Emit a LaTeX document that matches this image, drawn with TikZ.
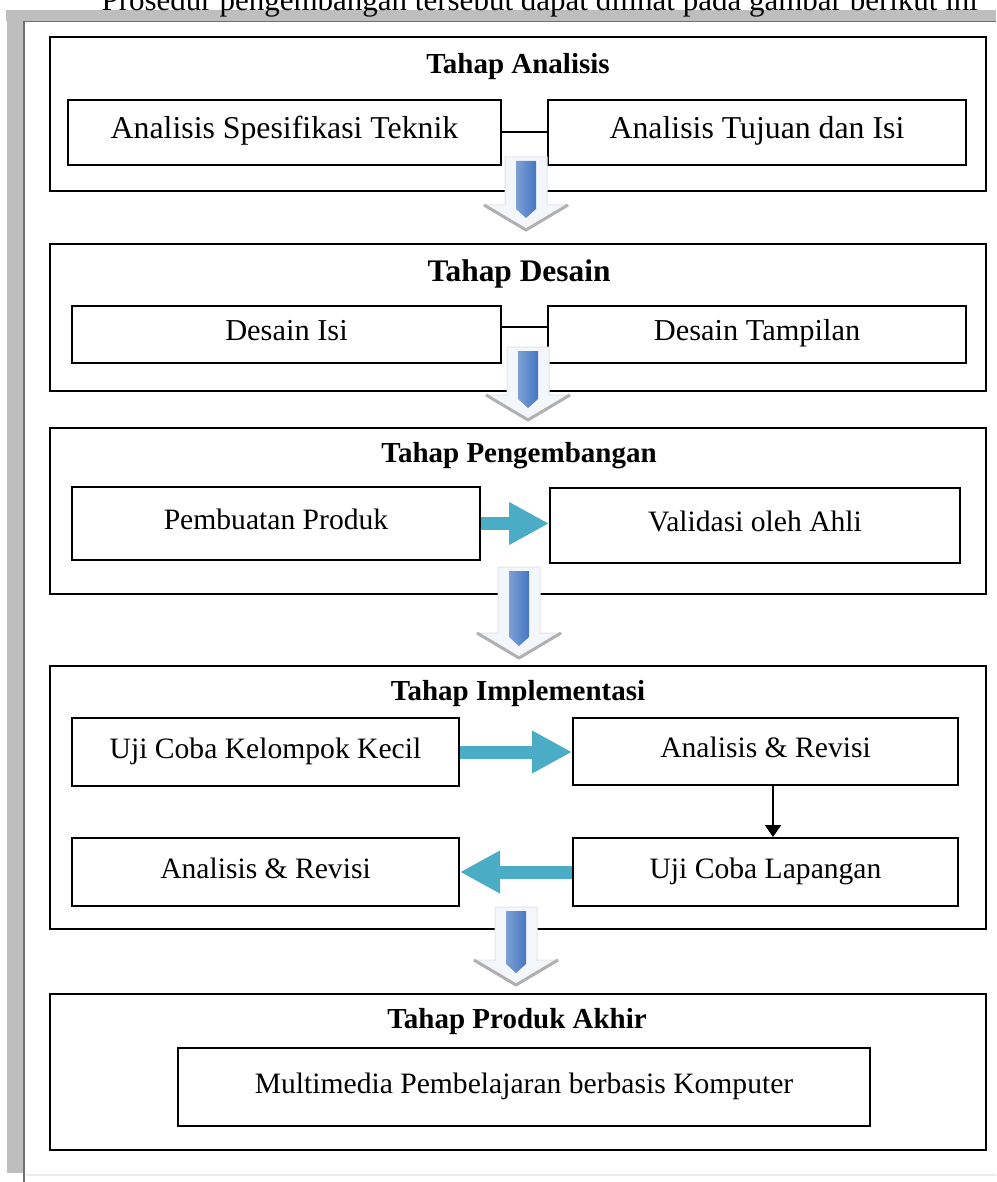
\documentclass[tikz,border=0pt]{standalone}
\usepackage{fontspec}
\setmainfont{Liberation Serif}
\usepackage{xcolor}
\usetikzlibrary{calc, arrows.meta}

\definecolor{framegray}{HTML}{BEBEBE}
\definecolor{framedark}{HTML}{707070}
\definecolor{flowcyan}{HTML}{4BACC6}
\definecolor{barblue}{HTML}{4677C2}
\definecolor{barpale}{HTML}{F3F6FA}
\definecolor{chevgray}{HTML}{B0B0B0}

\begin{document}
\begin{tikzpicture}[x=0.5pt, y=-0.5pt,
		stage/.style={draw, line width=1pt, anchor=north west, minimum width=468pt, inner sep=0pt},
		title/.style={font=\fontsize{14.5}{17}\selectfont\bfseries},
		box/.style={draw, line width=1pt, inner sep=0pt, text height=11pt, text depth=5pt, font=\fontsize{14.8}{17}\selectfont},
		flow/.style={flowcyan, line width=6.5pt, -{Triangle[length=20pt, width=20pt]}}]
			\def\wMAX{996};
			\def\hMAX{1182};

			\useasboundingbox (0,0) rectangle (\wMAX,\hMAX);
			\fill[white] (0,0) rectangle (\wMAX,\hMAX);

			\begin{scope}
				\fill[framegray] (6,10) rectangle (\wMAX,21);
				\fill[framegray] (7,21) rectangle (23,1173);
				\draw[framedark, line width=0.8pt] (24,\hMAX) -- (24,21.5) -- (\wMAX,21.5);
				\draw[gray!15, line width=0.6pt] (26,1175) -- (\wMAX,1175);
			\end{scope}

			\begin{scope}
				\clip (0,0) rectangle (\wMAX,30);
				\node[anchor=base east, font=\fontsize{15.5}{18}\selectfont] (intro) at (985,11) {Prosedur pengembangan tersebut dapat dilihat pada gambar berikut ini};
			\end{scope}

			\begin{scope}
				\node[stage, minimum height=77pt] (st1) at (49,36) {};
				\node[stage, minimum height=73.5pt] (st2) at (49,243) {};
				\node[stage, minimum height=83pt] (st3) at (49,427) {};
				\node[stage, minimum height=131.5pt] (st4) at (49,665) {};
				\node[stage, minimum height=78pt] (st5) at (49,993) {};

				\node[title] (t1) at (518,67) {Tahap Analisis};
				\node[title, font=\fontsize{15.7}{18}\selectfont\bfseries] (t2) at (519,274) {Tahap Desain};
				\node[title] (t3) at (519,456) {Tahap Pengembangan};
				\node[title] (t4) at (518,694) {Tahap Implementasi};
				\node[title] (t5) at (517,1022) {Tahap Produk Akhir};
			\end{scope}

			\begin{scope}
				\node[box, font=\fontsize{15.9}{18}\selectfont, minimum width=216.5pt, minimum height=32.5pt] (spek) at (284.5,132.5) {Analisis Spesifikasi Teknik};
				\node[box, font=\fontsize{15.9}{18}\selectfont, minimum width=209pt, minimum height=32.5pt] (tujuan) at (757,132.5) {Analisis Tujuan dan Isi};
				\draw[line width=1pt] (spek) -- (tujuan);

				\node[box, font=\fontsize{15.2}{18}\selectfont, minimum width=214.5pt, minimum height=28.5pt] (isi) at (286.5,334.5) {Desain Isi};
				\node[box, font=\fontsize{15.2}{18}\selectfont, minimum width=209pt, minimum height=28.5pt] (tampilan) at (757,334.5) {Desain Tampilan};
				\draw[line width=1pt] ([yshift=3.75pt]isi.east) -- ([yshift=3.75pt]tampilan.west);

				\node[box, minimum width=204pt, minimum height=36.5pt] (buat) at (276,523.5) {Pembuatan Produk};
				\node[box, minimum width=205pt, minimum height=37.5pt] (validasi) at (755,525.5) {Validasi oleh Ahli};
				\draw[flow] (buat.east) -- (buat.east -| validasi.west);

				\node[box, minimum width=193.5pt, minimum height=34pt] (kecil) at (265.5,752) {Uji Coba Kelompok Kecil};
				\node[box, minimum width=192.5pt, minimum height=33.5pt] (revisi1) at (765.5,751.5) {Analisis \& Revisi};
				\node[box, minimum width=192.5pt, minimum height=34pt] (lapangan) at (765.5,872) {Uji Coba Lapangan};
				\node[box, minimum width=193.5pt, minimum height=34pt] (revisi2) at (265.5,872) {Analisis \& Revisi};
				\draw[flow] (kecil.east) -- (kecil.east -| revisi1.west);
				\draw[line width=1pt, -{Triangle[length=6pt, width=8pt]}] ([xshift=3.75pt]revisi1.south) -- ([xshift=3.75pt]revisi1.south |- lapangan.north);
				\draw[flow] (lapangan.west) -- (lapangan.west -| revisi2.east);

				\node[box, minimum width=346pt, minimum height=39pt] (produk) at (524,1087) {Multimedia Pembelajaran berbasis Komputer};
			\end{scope}

			\begin{scope}
				\foreach \a/\b/\dx/\lift/\gap in {st1/st2/8/35/13, st2/st3/10/45/7, st3/st4/1/28/7, st4/st5/-2/23/8}
				{
					\coordinate (top) at ($(\a.south)+(\dx,-\lift)$);
					\coordinate (tip) at ($(\b.north)+(\dx,-\gap)$);
					\filldraw[fill=barpale, draw=gray!20, line width=0.5pt]
						($(top)+(-21,0)$) -- ($(tip)+(-21,-25)$) -- ($(tip)+(-42,-25)$) -- (tip)
						-- ($(tip)+(42,-25)$) -- ($(tip)+(21,-25)$) -- ($(top)+(21,0)$) -- cycle;
					\draw[chevgray, line width=1.5pt, line join=round] ($(tip)+(-42,-25)$) -- (tip) -- ($(tip)+(42,-25)$);
					\shade[left color=barblue!70!white, right color=barblue]
						($(top)+(-10,4)$) -- ($(tip)+(-10,-21)$) -- ($(tip)+(0,-12)$) -- ($(tip)+(10,-21)$) -- ($(top)+(10,4)$) -- cycle;
				}
			\end{scope}
\end{tikzpicture}
\end{document}
